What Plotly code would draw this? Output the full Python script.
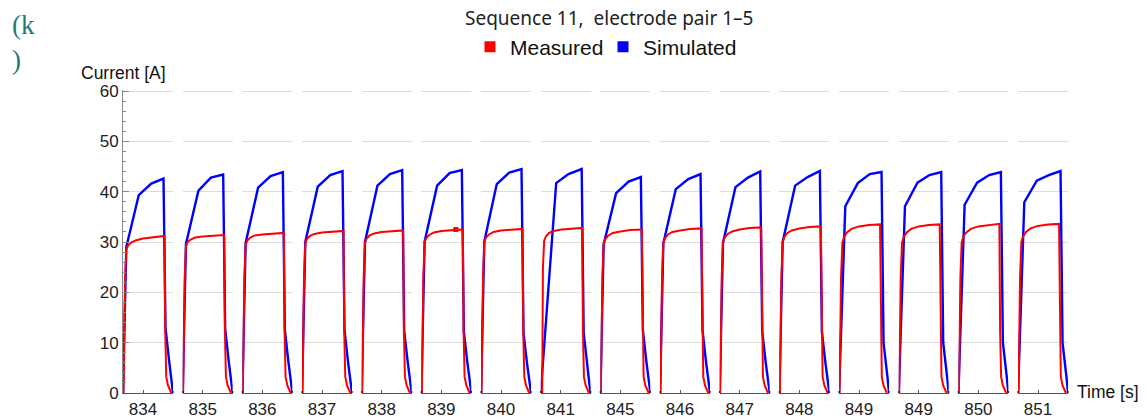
import plotly.graph_objects as go

# Pulse windows, labelled by the second in which each pulse starts
pulse_labels = [834, 835, 836, 837, 838, 839, 840, 841, 845, 846, 847, 848, 849, 849, 850, 851]

# Simulated current: breakpoint times (s after window start) and values [A]
sim_t_std = [0.0, 0.066, 0.315, 0.565, 0.81, 0.85, 0.92, 1.0]
sim_t_841 = [0.0, 0.31, 0.555, 0.82, 0.86, 0.93, 0.995]
sim_t_late = [0.0, 0.125, 0.375, 0.615, 0.85, 0.89, 0.97, 1.0]

sim_current = [
    [0, 29.0, 39.3, 41.6, 42.6, 13.0, 6.6, 0],
    [0, 29.6, 40.2, 42.8, 43.4, 12.8, 6.4, 0],
    [0, 29.8, 40.8, 43.1, 43.9, 12.6, 6.3, 0],
    [0, 30.0, 41.0, 43.3, 44.1, 12.5, 6.2, 0],
    [0, 30.0, 41.2, 43.5, 44.3, 12.4, 6.2, 0],
    [0, 30.1, 41.2, 43.7, 44.3, 12.2, 6.1, 0],
    [0, 30.1, 41.5, 43.8, 44.5, 11.9, 5.9, 0],
    [0, 41.7, 43.5, 44.5, 11.9, 5.9, 0],
    [0, 29.5, 39.7, 42.0, 42.9, 12.5, 6.3, 0],
    [0, 29.7, 40.5, 42.5, 43.5, 12.4, 6.2, 0],
    [0, 29.8, 40.9, 42.8, 44.0, 12.3, 6.1, 0],
    [0, 30.0, 41.2, 42.9, 44.1, 12.2, 6.1, 0],
    [0, 37.1, 41.7, 43.5, 43.9, 10.0, 3.0, 0],
    [0, 37.1, 41.8, 43.3, 43.9, 10.0, 3.0, 0],
    [0, 37.4, 41.8, 43.3, 43.9, 10.0, 3.0, 0],
    [0, 37.9, 42.2, 43.3, 44.1, 10.0, 3.0, 0],
]
sim_times = [sim_t_std] * 7 + [sim_t_841] + [sim_t_std] * 4 + [sim_t_late] * 4

# Measured current: sample times (s after window start) and values [A]
meas_t_std = [0.01, 0.04, 0.066, 0.10, 0.16, 0.25, 0.40, 0.60, 0.83, 0.845, 0.865, 0.90, 0.935, 0.965]
meas_t_841 = [0.03, 0.045, 0.07, 0.11, 0.17, 0.26, 0.42, 0.62, 0.83, 0.845, 0.865, 0.90, 0.935, 0.965]
meas_t_late = [0.01, 0.04, 0.066, 0.10, 0.16, 0.25, 0.40, 0.60, 0.82, 0.835, 0.855, 0.89, 0.925, 0.955]

meas_current = [
    [0, 22, 28.5, 29.3, 29.9, 30.3, 30.7, 31.0, 31.2, 12, 3.2, 1.5, 0.5, 0],
    [0, 23, 29.2, 30.0, 30.5, 30.9, 31.1, 31.3, 31.4, 12, 3.2, 1.5, 0.5, 0],
    [0, 23, 29.5, 30.3, 30.9, 31.3, 31.5, 31.7, 31.8, 12, 3.2, 1.5, 0.5, 0],
    [0, 23, 29.8, 30.6, 31.2, 31.6, 31.9, 32.1, 32.2, 12, 3.2, 1.5, 0.5, 0],
    [0, 23, 29.9, 30.7, 31.3, 31.7, 32.0, 32.2, 32.3, 12, 3.2, 1.5, 0.5, 0],
    [0, 23, 30.0, 30.8, 31.4, 31.9, 32.2, 32.4, 32.5, 12, 3.2, 1.5, 0.5, 0],
    [0, 23, 30.0, 30.9, 31.5, 32.0, 32.3, 32.5, 32.6, 12, 3.2, 1.5, 0.5, 0],
    [0, 25, 30.3, 31.2, 31.8, 32.2, 32.5, 32.7, 32.8, 12, 3.2, 1.5, 0.5, 0],
    [0, 23, 29.6, 30.6, 31.3, 31.8, 32.1, 32.4, 32.5, 12, 3.2, 1.5, 0.5, 0],
    [0, 23, 29.8, 30.8, 31.5, 32.0, 32.3, 32.6, 32.7, 12, 3.2, 1.5, 0.5, 0],
    [0, 23, 29.9, 30.9, 31.6, 32.1, 32.5, 32.8, 32.9, 12, 3.2, 1.5, 0.5, 0],
    [0, 23, 30.0, 31.0, 31.8, 32.3, 32.7, 33.0, 33.1, 12, 3.2, 1.5, 0.5, 0],
    [0, 23, 29.8, 31.0, 31.9, 32.6, 33.1, 33.4, 33.5, 12, 3.2, 1.5, 0.5, 0],
    [0, 23, 29.8, 31.0, 31.9, 32.6, 33.1, 33.4, 33.5, 12, 3.2, 1.5, 0.5, 0],
    [0, 23, 29.9, 31.1, 31.9, 32.6, 33.1, 33.4, 33.6, 12, 3.2, 1.5, 0.5, 0],
    [0, 23, 30.0, 31.1, 32.0, 32.7, 33.2, 33.5, 33.6, 12, 3.2, 1.5, 0.5, 0],
]
meas_times = [meas_t_std] * 7 + [meas_t_841] + [meas_t_std] * 4 + [meas_t_late] * 4

# Single highlighted measured sample (pulse index, s after window start, A)
meas_dot = (5, 0.69, 32.5)

y_ticks = [0, 10, 20, 30, 40, 50, 60]

# ---- layout geometry (pixels) ----
W, H = 1148, 420
ML, MR, MT, MB = 123, 79, 90, 27
PW = W - ML - MR
PH = H - MT - MB
STEP, PANEL_W = 59.67, 50.0
LEAD = 0.4  # window opens this many seconds before the labelled second
Y_TOP = 60.2  # a hair above 60 so the top grid line is kept in every panel

RED = "#ff0000"
BLUE = "#0000ff"
AX = "#555555"
GRID = "#dcdcdc"
FONT = "Liberation Sans, Arial, sans-serif"

fig = go.Figure()
layout_axes = {}
shapes = []

for i, lab in enumerate(pulse_labels):
    xname = "x" if i == 0 else f"x{i + 1}"
    t0 = lab - LEAD
    fig.add_trace(go.Scatter(
        x=[t0 + t for t in sim_times[i]], y=sim_current[i],
        mode="lines", line=dict(color=BLUE, width=2.4),
        xaxis=xname, yaxis="y", showlegend=False, hoverinfo="skip"))
    fig.add_trace(go.Scatter(
        x=[t0 + t for t in meas_times[i]], y=meas_current[i],
        mode="lines", line=dict(color=RED, width=2),
        xaxis=xname, yaxis="y", showlegend=False, hoverinfo="skip"))
    if i == meas_dot[0]:
        fig.add_trace(go.Scatter(
            x=[t0 + meas_dot[1]], y=[meas_dot[2]], mode="markers",
            marker=dict(color=RED, size=5, symbol="square"),
            xaxis=xname, yaxis="y", showlegend=False, hoverinfo="skip"))

    left = (i * STEP) / PW
    right = (i * STEP + PANEL_W) / PW
    key = "xaxis" if i == 0 else f"xaxis{i + 1}"
    layout_axes[key] = dict(
        domain=[left, min(right, 1.0)], anchor="y",
        range=[t0, t0 + 1.0], automargin=False,
        tickvals=[lab], ticktext=[str(lab)],
        ticks="inside", ticklen=3, tickcolor=AX, tickwidth=1,
        showline=True, linecolor=AX, linewidth=1.2,
        showgrid=False, zeroline=False, fixedrange=True,
        tickfont=dict(family=FONT, size=17, color="#222"),
    )
    # small break marks at both ends of each panel's time axis
    dom = f"{xname} domain"
    for xe in ([1] if i == 0 else [0, 1]):
        shapes.append(dict(
            type="line", xref=dom, x0=xe, x1=xe,
            yref="y", ysizemode="pixel", yanchor=0, y0=-7, y1=2,
            line=dict(color="#222", width=1.3)))

fig.update_layout(**layout_axes)

fig.update_layout(
    width=W, height=H,
    margin=dict(l=ML, r=MR, t=MT, b=MB),
    paper_bgcolor="white", plot_bgcolor="white",
    yaxis=dict(
        range=[0, Y_TOP], tickvals=y_ticks, anchor="x", automargin=False,
        ticks="inside", ticklen=6, tickcolor="#888", tickwidth=1,
        minor=dict(dtick=2, ticks="inside", ticklen=3, tickcolor="#888", showgrid=False),
        showline=True, linecolor="#888", linewidth=1,
        showgrid=True, gridcolor=GRID, gridwidth=1,
        zeroline=False, fixedrange=True,
        tickfont=dict(family=FONT, size=17, color="#222"),
    ),
    shapes=shapes,
    showlegend=True,
    legend=dict(
        orientation="h", x=(603 - ML) / PW, xanchor="center",
        y=1 + (MT - 47) / PH, yanchor="middle",
        font=dict(family=FONT, size=21, color="#111"),
        entrywidth=88, entrywidthmode="pixels",
        itemsizing="trace", bgcolor="rgba(0,0,0,0)",
    ),
)

# Legend entries drawn as coloured squares
for name, col in (("Measured", RED), ("Simulated", BLUE)):
    fig.add_trace(go.Scatter(
        x=[None], y=[None], mode="markers", name=name,
        marker=dict(color=col, size=11, symbol="square"),
        xaxis="x", yaxis="y"))

fig.add_annotation(
    text="Sequence 11,  electrode pair 1\u20135",
    xref="paper", yref="paper", x=(609 - ML) / PW, y=1 + (MT - 18) / PH,
    xanchor="center", yanchor="middle", showarrow=False,
    font=dict(family="Noto Sans, Open Sans, sans-serif", size=19, color="#222"))
fig.add_annotation(
    text="Current [A]", xref="paper", yref="paper",
    x=(79 - ML) / PW, y=1 + (MT - 73) / PH,
    xanchor="left", yanchor="middle", showarrow=False,
    font=dict(family=FONT, size=17.5, color="#111"))
fig.add_annotation(
    text="Time [s]", xref="paper", yref="paper",
    x=(1075 - ML) / PW, y=1 + (MT - 392) / PH,
    xanchor="left", yanchor="middle", showarrow=False,
    font=dict(family=FONT, size=17.5, color="#111"))
fig.add_annotation(
    text="(k<br>)", xref="paper", yref="paper",
    x=(10 - ML) / PW, y=1 + (MT - 8) / PH,
    xanchor="left", yanchor="top", align="left", showarrow=False,
    font=dict(family="Liberation Serif, Times New Roman, serif", size=27, color="#1d7a74"))

fig.write_html("out.html")
